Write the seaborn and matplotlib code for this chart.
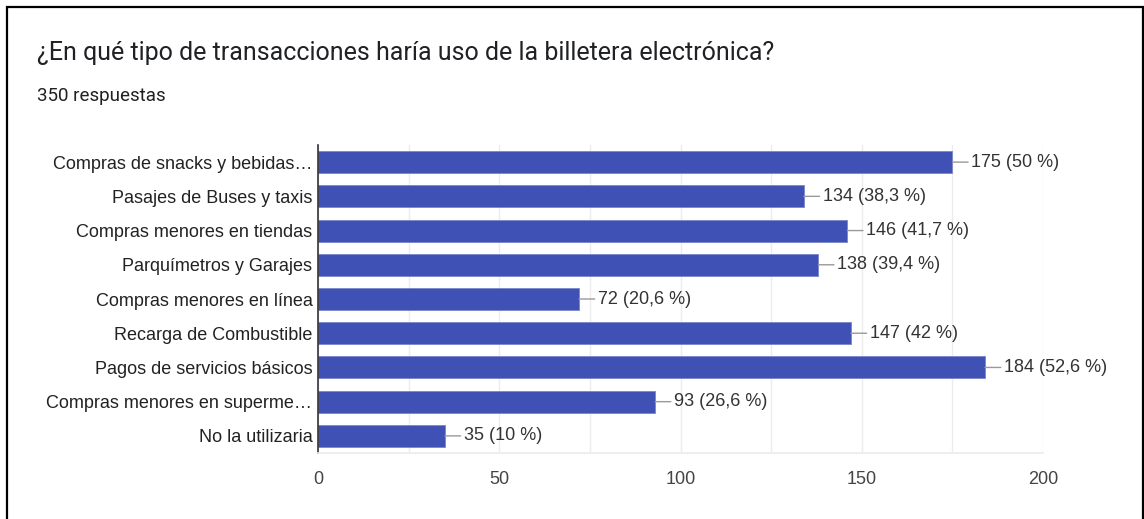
import matplotlib
matplotlib.use("Agg")
import matplotlib.pyplot as plt
import matplotlib.patches as patches
import seaborn as sns
import pandas as pd

categories = [
    "Compras de snacks y bebidas…",
    "Pasajes de Buses y taxis",
    "Compras menores en tiendas",
    "Parquímetros y Garajes",
    "Compras menores en línea",
    "Recarga de Combustible",
    "Pagos de servicios básicos",
    "Compras menores en superme…",
    "No la utilizaria",
]
counts = [175, 134, 146, 138, 72, 147, 184, 93, 35]
percents = ["50", "38,3", "41,7", "39,4", "20,6", "42", "52,6", "26,6", "10"]
xticks = [0, 50, 100, 150, 200]

df = pd.DataFrame({"cat": categories, "n": counts})

sns.set_theme(style="white")
plt.rcParams["font.family"] = ["Liberation Sans", "DejaVu Sans"]

fig = plt.figure(figsize=(11.44, 5.19), dpi=100)
ax = fig.add_axes([318 / 1144, 1 - 453 / 519, 725 / 1144, 308 / 519])

sns.barplot(data=df, x="n", y="cat", orient="h", color="#3f51b5",
            saturation=1, width=0.64, ax=ax)
for p in ax.patches:
    p.set_edgecolor("#7986cb")
    p.set_linewidth(0.6)

ax.set_xlim(0, 200)
ax.set_ylim(8.5, -0.5)
ax.set_xticks(xticks)
ax.set_xticks(range(0, 201, 25), minor=True)
ax.grid(axis="x", which="both", color="#ececec", linewidth=1)
ax.set_axisbelow(True)
ax.set_xlabel("")
ax.set_ylabel("")
ax.tick_params(axis="x", length=0, pad=13, labelsize=13, labelcolor="#444444")
ax.tick_params(axis="y", length=0, pad=4, labelsize=13, labelcolor="#222222")

for s in ["top", "right"]:
    ax.spines[s].set_visible(False)
ax.spines["bottom"].set_color("#ececec")
ax.spines["left"].set_color("#333333")
ax.spines["left"].set_linewidth(1.2)

for i, (v, pc) in enumerate(zip(counts, percents)):
    ax.annotate(f"{v} ({pc} %)", xy=(v, i), xytext=(19, 0),
                textcoords="offset pixels",
                va="center", ha="left", fontsize=13, color="#333333",
                arrowprops=dict(arrowstyle="-", color="#999999", lw=1,
                                shrinkA=0, shrinkB=0))

fig.text(37 / 1144, 1 - 53 / 519, "¿En qué tipo de transacciones haría uso de la billetera electrónica?",
         fontsize=18, color="#202124", va="center", ha="left", family=["Roboto", "DejaVu Sans"])
fig.text(37 / 1144, 1 - 96 / 519, "350 respuestas",
         fontsize=13.5, color="#202124", va="center", ha="left", family=["Roboto", "DejaVu Sans"])

border = patches.Rectangle((7 / 1144, -0.05), 1136 / 1144, 1 - 7 / 519 + 0.05,
                           transform=fig.transFigure, fill=False,
                           edgecolor="black", linewidth=1.6)
fig.add_artist(border)

plt.savefig("out.png", dpi=100)
